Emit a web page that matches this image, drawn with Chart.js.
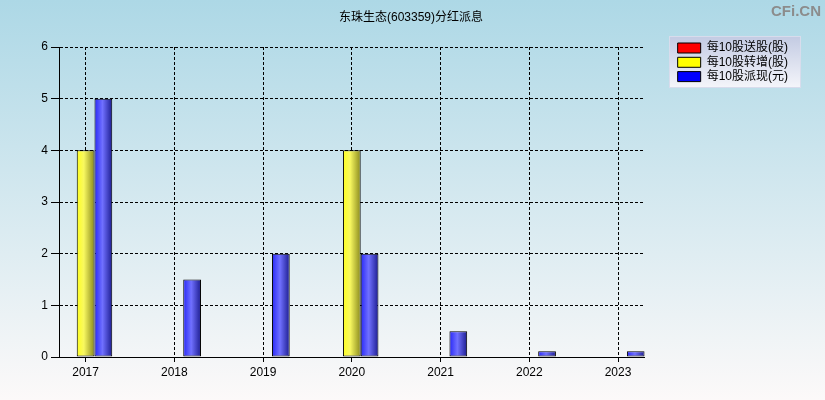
<!DOCTYPE html>
<html>
<head>
<meta charset="utf-8">
<script src="https://cdn.jsdelivr.net/npm/chart.js@4"></script>
<style>
html,body{margin:0;padding:0;background:#fff;}
#wrap{width:825px;height:400px;position:relative;}
</style>
</head>
<body>
<div id="wrap"><canvas id="c" width="825" height="400"></canvas></div>
<script>
const titleText = '东珠生态(603359)分红派息';
const years = [2017, 2018, 2019, 2020, 2021, 2022, 2023];
const seriesNames = ['每10股送股(股)', '每10股转增(股)', '每10股派现(元)'];
const songGu = [null, null, null, null, null, null, null];
const zhuanZeng = [4, null, null, 4, null, null, null];
const paiXian = [5, 1.5, 2, 2, 0.5, 0.11, 0.11];
const yTicks = [0, 1, 2, 3, 4, 5, 6];
const baseColors = ['#ff0000', '#ffff00', '#0000ff'];

const CP = 0.6;
const FONT = "'Liberation Sans', 'Noto Sans CJK SC', sans-serif";

function barFill(base, stops) {
  return (ctx) => {
    if (ctx.type !== 'data') return base;
    const chart = ctx.chart;
    const xs = chart.scales.x;
    if (!xs || !isFinite(xs.width) || !ctx.raw) return base;
    const spacing = xs.getPixelForValue(2018) - xs.getPixelForValue(2017);
    const w = spacing * CP / 3;
    const cx = xs.getPixelForValue(ctx.raw.x) + (ctx.datasetIndex - 1) * w;
    const g = chart.ctx.createLinearGradient(cx - w / 2, 0, cx + w / 2, 0);
    stops.forEach(s => g.addColorStop(s[0], s[1]));
    return g;
  };
}
const toXY = arr => years.map((y, i) => ({x: y, y: arr[i]}));

const bgPlugin = {
  id: 'bg',
  beforeDraw(chart) {
    const c = chart.ctx;
    c.save();
    const g = c.createLinearGradient(0, 0, 0, chart.height);
    g.addColorStop(0, '#add8e6');
    g.addColorStop(1, '#fcf9f9');
    c.fillStyle = g;
    c.fillRect(0, 0, chart.width, chart.height);
    const lg = chart.legend;
    if (lg && lg.legendHitBoxes && lg.legendHitBoxes.length) {
      const hb = lg.legendHitBoxes[0];
      const x = Math.round(hb.left) - 8.5, y = Math.round(hb.top) - 5.5, w = 131, h = 51;
      const g2 = c.createLinearGradient(0, y, 0, y + h);
      g2.addColorStop(0, '#c3cbe3');
      g2.addColorStop(1, '#f4f5fa');
      c.fillStyle = g2;
      c.fillRect(x, y, w, h);
      c.strokeStyle = '#d8dcec';
      c.lineWidth = 1;
      c.strokeRect(x, y, w, h);
    }
    c.fillStyle = '#8c8c8c';
    c.font = "bold 15px 'Liberation Sans', sans-serif";
    c.textAlign = 'right';
    c.textBaseline = 'alphabetic';
    c.fillText('CFi.CN', 821, 16);
    c.restore();
  }
};

new Chart(document.getElementById('c'), {
  type: 'bar',
  data: {
    datasets: [
      {label: seriesNames[0], data: toXY(songGu), backgroundColor: barFill(baseColors[0], [[0,'#f82828'],[0.45,'#ff7070'],[1,'#901c1c']]), borderColor: '#000', borderWidth: 1, borderSkipped: false},
      {label: seriesNames[1], data: toXY(zhuanZeng), backgroundColor: barFill(baseColors[1], [[0,'#ffff20'],[0.4,'#f8f860'],[1,'#8a8a1c']]), borderColor: '#000', borderWidth: 1, borderSkipped: false},
      {label: seriesNames[2], data: toXY(paiXian), backgroundColor: barFill(baseColors[2], [[0,'#2828f8'],[0.45,'#7070ff'],[1,'#1c1c90']]), borderColor: '#000', borderWidth: 1, borderSkipped: false}
    ]
  },
  options: {
    responsive: false,
    animation: false,
    events: [],
    layout: {padding: {left: 24, right: 27, top: 0, bottom: 0}},
    datasets: {bar: {categoryPercentage: CP, barPercentage: 1}},
    scales: {
      x: {
        type: 'linear',
        offset: false,
        min: 2016.7,
        max: 2023.3,
        afterBuildTicks: s => { s.ticks = years.map(v => ({value: v})); },
        ticks: {autoSkip: false, color: '#000', padding: 3, maxRotation: 0, font: {family: FONT, size: 12}, callback: v => String(v)},
        grid: {offset: false, color: '#000', lineWidth: 1, tickLength: 5, tickColor: '#000', drawOnChartArea: true},
        border: {display: true, color: '#000', width: 1, dash: [3, 2]},
        afterFit: s => { s.height = 43; }
      },
      y: {
        position: 'left',
        min: 0,
        max: 6,
        afterBuildTicks: s => { s.ticks = yTicks.map(v => ({value: v})); },
        ticks: {color: '#000', padding: 3, font: {family: FONT, size: 12}},
        grid: {color: '#000', lineWidth: 1, tickLength: 8, tickColor: '#000'},
        border: {display: true, color: '#000', width: 1, dash: [3, 2]},
        afterFit: s => { s.width = 35; }
      },
      y2: {
        position: 'right',
        display: true,
        ticks: {display: false},
        grid: {display: false, drawTicks: false},
        border: {display: false},
        afterFit: s => { s.width = 30.7; }
      }
    },
    plugins: {
      title: {display: true, text: titleText, color: '#000', font: {family: FONT, size: 12, weight: 'normal', lineHeight: 1.2}, padding: {top: 10.3, bottom: 22.3}},
      legend: {
        display: true,
        position: 'right',
        align: 'start',
        fullSize: true,
        title: {display: true, text: '', font: {size: 12, lineHeight: 1}, padding: {top: 27.7, bottom: 0}},
        labels: {
          boxWidth: 23, boxHeight: 10, padding: 2.3, color: '#000', font: {family: FONT, size: 12},
          generateLabels: chart => Chart.defaults.plugins.legend.labels.generateLabels(chart).map((it, i) => Object.assign(it, {fillStyle: baseColors[i], strokeStyle: '#000', lineWidth: 1}))
        }
      },
      tooltip: {enabled: false}
    }
  },
  plugins: [bgPlugin]
});
</script>
</body>
</html>
